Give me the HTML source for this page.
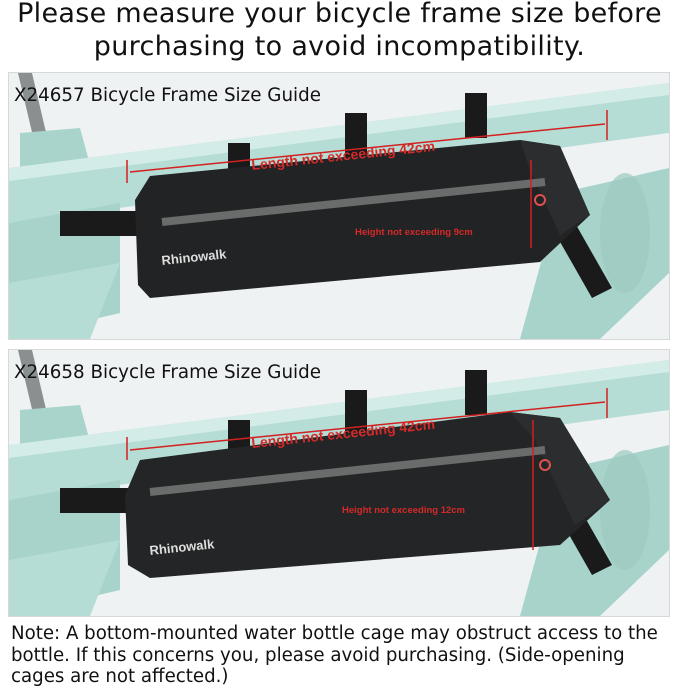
<!DOCTYPE html>
<html><head><meta charset="utf-8"><style>
html,body{margin:0;padding:0;background:#fff;width:679px;height:686px;overflow:hidden;font-family:"Liberation Sans","DejaVu Sans",sans-serif}
.t{position:absolute;left:0;width:679px;text-align:center;font-size:27px;color:#111;font-family:"DejaVu Sans",sans-serif;letter-spacing:0.3px;white-space:nowrap}
.n{position:absolute;left:11px;font-size:18.2px;color:#111;font-family:"DejaVu Sans",sans-serif;white-space:nowrap}
svg{position:absolute;left:0;top:0}
</style></head><body>
<div class="t" style="top:-2px">Please measure your bicycle frame size before</div>
<div class="t" style="top:31px">purchasing to avoid incompatibility.</div>
<svg width="679" height="686">
<defs>
<g id="p">
<rect x="9" y="0" width="660" height="266" fill="#eef2f2"/>
<polygon points="18,0 32,0 58,110 44,110" fill="#8a9090"/>
<polygon points="20,60 80,55 95,110 20,110" fill="#a9d4cc"/>
<polygon points="9,95 669,10 669,60 9,150" fill="#b5ddd6"/>
<polygon points="9,95 669,10 669,22 9,108" fill="#d3ece7"/>
<polygon points="9,150 120,130 120,240 9,266" fill="#a7d3cb"/>
<polygon points="560,120 669,95 669,200 600,266 520,266" fill="#a7d3cb"/>
<polygon points="9,210 120,190 90,266 9,266" fill="#b6ddd5"/>
<ellipse cx="625" cy="160" rx="25" ry="60" fill="#9cc9c0" opacity="0.7"/>
<rect x="228" y="70" width="22" height="40" fill="#1a1a1a"/>
<rect x="345" y="40" width="22" height="45" fill="#1a1a1a"/>
<rect x="465" y="20" width="22" height="45" fill="#1a1a1a"/>
<rect x="60" y="138" width="90" height="25" fill="#1a1a1a"/>
<polygon points="555,160 575,150 612,215 592,225" fill="#1a1a1a"/>
</g>
</defs>
<rect x="8" y="72" width="662" height="268" fill="#d8d8d8"/>
<rect x="8" y="349" width="662" height="268" fill="#d8d8d8"/>
<use href="#p" x="0" y="73"/>
<use href="#p" x="0" y="350"/>
<polygon points="135,200 150,176 520,140 560,146 590,215 540,262 150,298 138,285" fill="#222324"/>
<polygon points="520,140 560,146 590,215 560,235 530,170" fill="#2c2d2e"/>
<line x1="162" y1="222" x2="545" y2="182" stroke="#6a6c6c" stroke-width="8"/>
<text x="162" y="265" font-size="13" font-weight="bold" fill="#ddd" transform="rotate(-6 162 265)">Rhinowalk</text>
<circle cx="540" cy="200" r="5" fill="none" stroke="#e05050" stroke-width="2"/>
<line x1="130" y1="172" x2="605" y2="124" stroke="#d32020" stroke-width="1.5"/>
<line x1="127" y1="160" x2="127" y2="183" stroke="#d32020" stroke-width="1.5"/>
<line x1="607" y1="110" x2="607" y2="140" stroke="#d32020" stroke-width="1.5"/>
<text x="252" y="170" font-size="14" font-weight="bold" fill="#d42a2a" transform="rotate(-6 252 170)">Length not exceeding 42cm</text>
<line x1="531" y1="160" x2="531" y2="248" stroke="#d32020" stroke-width="1.5"/>
<text x="355" y="235" font-size="9.5" font-weight="bold" fill="#d42a2a">Height not exceeding 9cm</text>
<polygon points="125,495 140,460 510,412 560,418 610,500 560,545 150,578 128,565" fill="#242526"/>
<polygon points="510,412 560,418 610,500 575,525 535,440" fill="#2c2d2e"/>
<line x1="150" y1="492" x2="545" y2="450" stroke="#6a6c6c" stroke-width="8"/>
<text x="150" y="555" font-size="13" font-weight="bold" fill="#ddd" transform="rotate(-6 150 555)">Rhinowalk</text>
<circle cx="545" cy="465" r="5" fill="none" stroke="#e05050" stroke-width="2"/>
<line x1="130" y1="450" x2="605" y2="402" stroke="#d32020" stroke-width="1.5"/>
<line x1="127" y1="437" x2="127" y2="460" stroke="#d32020" stroke-width="1.5"/>
<line x1="607" y1="388" x2="607" y2="418" stroke="#d32020" stroke-width="1.5"/>
<text x="252" y="448" font-size="14" font-weight="bold" fill="#d42a2a" transform="rotate(-6 252 448)">Length not exceeding 42cm</text>
<line x1="533" y1="420" x2="533" y2="550" stroke="#d32020" stroke-width="1.5"/>
<text x="342" y="513" font-size="9.5" font-weight="bold" fill="#d42a2a">Height not exceeding 12cm</text>
<text x="14" y="101" font-size="18.3" fill="#111" font-family="DejaVu Sans">X24657 Bicycle Frame Size Guide</text>
<text x="14" y="378" font-size="18.3" fill="#111" font-family="DejaVu Sans">X24658 Bicycle Frame Size Guide</text>
</svg>
<div class="n" style="top:623px">Note: A bottom-mounted water bottle cage may obstruct access to the</div>
<div class="n" style="top:645px">bottle. If this concerns you, please avoid purchasing. (Side-opening</div>
<div class="n" style="top:666px">cages are not affected.)</div>
</body></html>
